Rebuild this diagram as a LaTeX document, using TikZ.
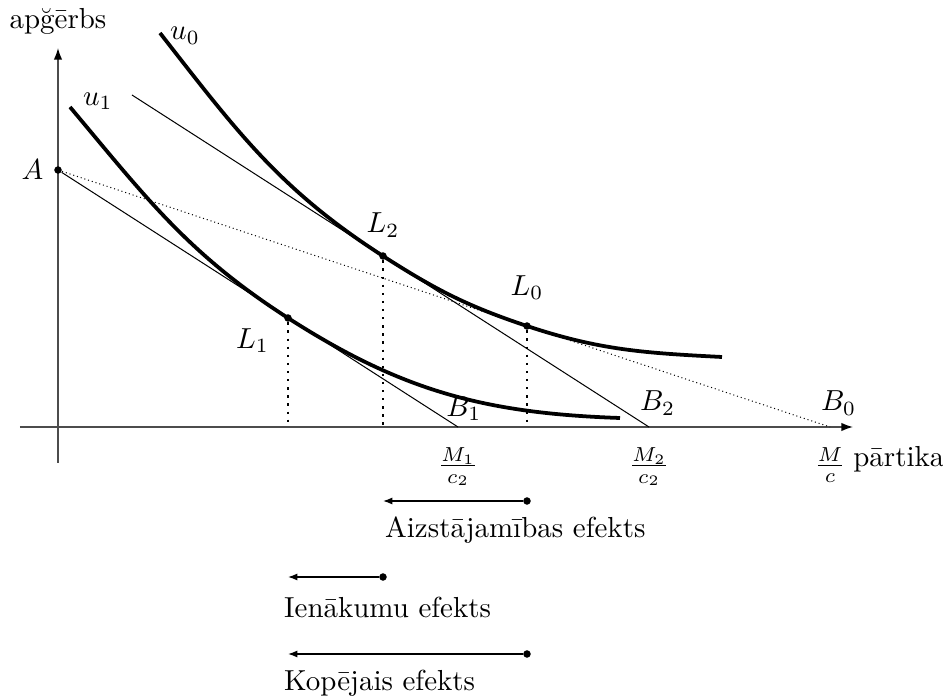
\documentclass[tikz,border=0pt]{standalone}
\usepackage{fontspec}
\usetikzlibrary{positioning,arrows.meta}

\tikzstyle{dot} = [circle, fill, inner sep=0pt, minimum size=2.6pt]
\tikzstyle{axis} = [line width=0.5pt, black!70, -{Latex[length=4pt,width=2.9pt,black]}]
\tikzstyle{indiff} = [line width=1.3pt]
\tikzstyle{budget} = [line width=0.35pt]
\tikzstyle{budgetdots} = [line width=0.35pt, densely dotted]
\tikzstyle{drop} = [line width=0.9pt, dash pattern=on 0.8pt off 2pt]
\tikzstyle{effect} = [line width=0.45pt, -{Latex[length=3.2pt,width=2.4pt]}]

\begin{document}
\begin{tikzpicture}[x=0.1214cm, y=0.1214cm]
\useasboundingbox (-5.8,-26.9) rectangle (88.5,42.7);
%assen
\coordinate (xbegin) at (-3.8,0);
\coordinate (xend) at (79.5,0);
\coordinate (ybegin) at (0,-3.6);
\coordinate (yend) at (0,37.9);
\draw[axis] (xbegin) -- (xend);
\draw[axis] (ybegin) -- (yend);
\node[above=1pt of yend] (ylab) {apğērbs};
\node[below right=3pt and -3.4pt of xend] (xlab) {pārtika};
%budgetlijnen
\node[dot] (A) at (0,25.7) {};
\node[left=0pt of A] (Alab) {$A$};
\coordinate (B0) at (77.2,0);
\coordinate (B1) at (40,0);
\coordinate (B2) at (59.1,0);
\coordinate (C2) at (7.4,33.2);
\draw[budgetdots] (A) -- (B0);
\draw[budget] (A) -- (B1);
\draw[budget] (C2) -- (B2);
\node[above=-1.3pt of B1, xshift=2pt] (B1lab) {$B_1$};
\node[above=0.5pt of B2, xshift=3pt] (B2lab) {$B_2$};
\node[above=0.5pt of B0, xshift=3pt] (B0lab) {$B_0$};
\node[below=3.5pt of B1] (M1lab) {$\frac{M_1}{c_2}$};
\node[below=3.5pt of B2] (M2lab) {$\frac{M_2}{c_2}$};
\node[below=3.5pt of B0] (Mlab) {$\frac{M}{c}$};
%optimumpunten
\node[dot] (L0) at (46.9,10.1) {};
\node[dot] (L1) at (23,10.9) {};
\node[dot] (L2) at (32.5,17.1) {};
\node[above=4pt of L0] (L0lab) {$L_0$};
\node[below left=-1pt and 2pt of L1] (L1lab) {$L_1$};
\node[above=1.5pt of L2] (L2lab) {$L_2$};
\draw[drop] (L0) -- (L0 |- B1);
\draw[drop] (L1) -- (L1 |- B1);
\draw[drop] (L2) -- (L2 |- B1);
%indifferentiecurven
\coordinate (u0begin) at (10.2,39.4);
\coordinate (u0end) at (66.4,7.0);
\coordinate (u1begin) at (1.2,32.0);
\coordinate (u1end) at (56.2,0.9);
\draw[indiff] (u0begin) to[out=-52,in=147.3] (L2.center)
    to[out=-32.7,in=161.6] (L0.center) to[out=-18.4,in=177] (u0end);
\draw[indiff] (u1begin) to[out=-50,in=147.3] (L1.center)
    to[out=-32.7,in=178] (u1end);
\node[right=0pt of u0begin, yshift=-1pt] (u0lab) {$u_0$};
\node[right=1pt of u1begin, yshift=2pt] (u1lab) {$u_1$};
%effecten
\node[dot] (sub) at (46.9,-7.4) {};
\coordinate (subtip) at (32.5,-7.4);
\node[dot] (inc) at (32.5,-15.0) {};
\coordinate (inctip) at (23,-15.0);
\node[dot] (tot) at (46.9,-22.7) {};
\coordinate (tottip) at (23,-22.7);
\draw[effect] (sub) -- (subtip);
\draw[effect] (inc) -- (inctip);
\draw[effect] (tot) -- (tottip);
\node[anchor=west] (sublab) at (31.7,-10.3) {Aizstājamības efekts};
\node[anchor=west] (inclab) at (21.6,-18.0) {Ienākumu efekts};
\node[anchor=west] (totlab) at (21.6,-25.6) {Kopējais efekts};
\end{tikzpicture}
\end{document}
